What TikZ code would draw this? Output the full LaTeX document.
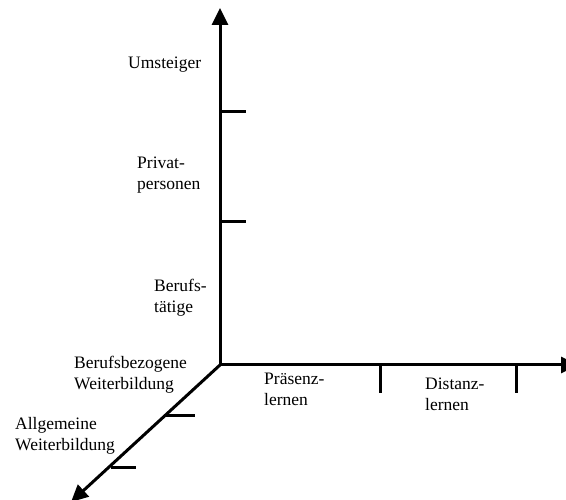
\documentclass[tikz,border=0pt]{standalone}
\usepackage{fontspec}
\setmainfont{Liberation Serif}
\usetikzlibrary{arrows.meta}
\begin{document}
\begin{tikzpicture}[x=1pt,y=-1pt,
  axis/.style={line width=3pt,-{Triangle[width=16pt,length=17pt]}},
  tickmark/.style={line width=3pt},
  lab/.style={anchor=base west,align=left,inner sep=0pt,
              font=\fontsize{17.5}{21}\selectfont}]
\useasboundingbox (0,0) rectangle (566,500);

% origin and axis ends
\coordinate (O) at (220,365);
\coordinate (ytop) at (220,8);
\coordinate (xend) at (578,365);
\coordinate (zend) at (71,502);

% axes
\draw[axis] (O) -- (ytop);
\draw[axis] (O) -- (xend);
\draw[axis] (O) -- (zend);

% ticks on the vertical axis
\coordinate (y1) at (220,112);
\coordinate (y1e) at (246,112);
\coordinate (y2) at (220,222);
\coordinate (y2e) at (246,222);
\draw[tickmark] (y1) -- (y1e);
\draw[tickmark] (y2) -- (y2e);

% ticks on the horizontal axis
\coordinate (x1) at (380,365);
\coordinate (x1e) at (380,393);
\coordinate (x2) at (516,365);
\coordinate (x2e) at (516,393);
\draw[tickmark] (x1) -- (x1e);
\draw[tickmark] (x2) -- (x2e);

% ticks on the diagonal axis
\coordinate (z1) at (166,416);
\coordinate (z1e) at (195,416);
\coordinate (z2) at (111,467);
\coordinate (z2e) at (136,467);
\draw[tickmark] (z1) -- (z1e);
\draw[tickmark] (z2) -- (z2e);

% labels (anchored at the baseline of their last line)
\node[lab] (umst) at (128,69) {Umsteiger};
\node[lab] (priv) at (137,190) {Privat-\\personen};
\node[lab] (beruf) at (154,313) {Berufs-\\tätige};
\node[lab] (bbw) at (74,390) {Berufsbezogene\\Weiterbildung};
\node[lab] (aw) at (15,450) {Allgemeine\\Weiterbildung};
\node[lab] (praes) at (264,406) {Präsenz-\\lernen};
\node[lab] (dist) at (425,410) {Distanz-\\lernen};
\end{tikzpicture}
\end{document}
